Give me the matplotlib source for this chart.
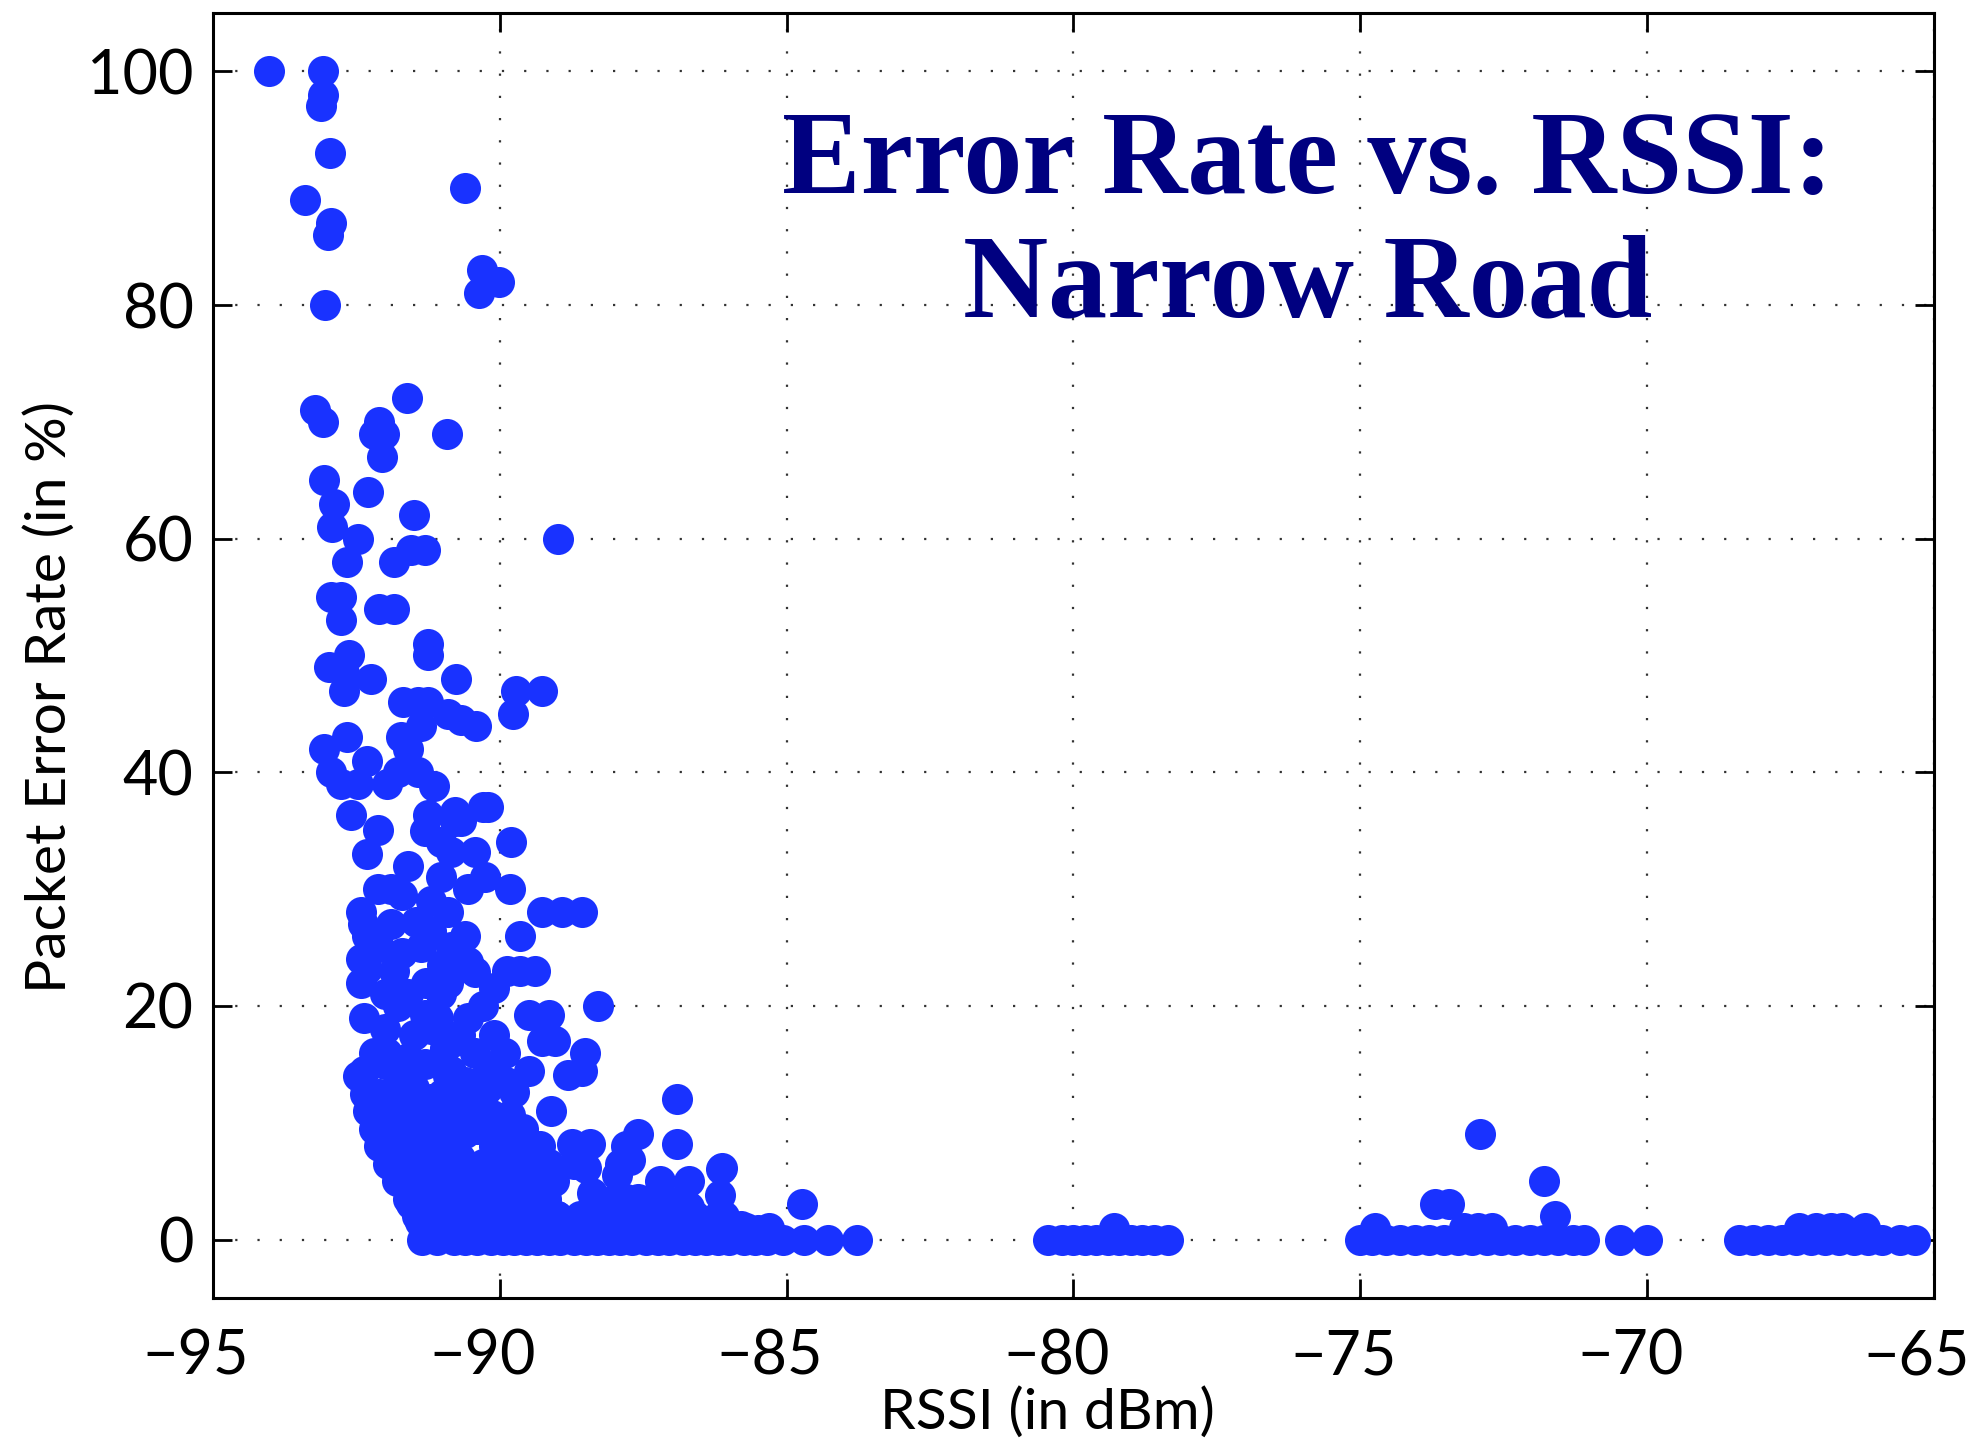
import matplotlib
matplotlib.use("Agg")
import matplotlib.pyplot as plt
import matplotlib.transforms as mtransforms

# points above the floor (RSSI in dBm, packet error rate in %)
upper_x = [-94.02, -93.08, -93.08, -93.11, -92.96, -93.4, -92.95, -93.0, -93.05,
           -90.61, -90.31, -90.02, -90.37, -93.22, -93.08, -91.61, -92.1, -92.19,
           -92.02, -92.05, -90.92, -93.06, -92.3, -92.89, -92.92, -91.5, -92.48,
           -92.66, -88.98, -91.55, -91.84, -91.3, -92.95, -92.77, -92.77, -92.1,
           -91.84, -91.26, -91.26]
upper_y = [100, 100, 98, 97, 93, 89, 87, 86, 80,
           90, 83, 82, 81, 71, 70, 72, 70, 69,
           69, 67, 69, 65, 64, 63, 61, 62, 60,
           58, 60, 59, 58, 59, 55, 55, 53, 54,
           54, 51, 50]

mid_x = [-92.63, -92.71, -92.98, -92.71, -92.25, -90.76, -89.71, -89.27, -89.77,
         -91.69, -91.43, -91.26, -90.9, -90.67, -90.41, -91.37, -91.72, -91.6,
         -93.06, -92.66, -92.31, -92.95, -92.77, -92.48, -91.96, -91.78, -91.43,
         -91.14, -90.79, -90.3, -92.6, -92.13, -92.31, -91.26, -90.79, -90.67,
         -90.2, -91.31, -91.02, -89.8, -91.6, -90.85, -90.44, -91.02, -90.55,
         -90.26, -89.82, -92.13, -91.9, -92.42, -92.39, -92.31, -89.27, -88.92,
         -88.57, -91.46, -91.2, -90.61, -91.37, -90.85, -90.55, -90.44, -89.65,
         -89.88, -89.65, -89.39, -92.42, -92.31, -91.84, -92.42, -91.28, -91.02,
         -91.78, -91.31, -91.08, -90.29, -90.55, -88.28, -92.36, -89.5, -89.15,
         -89.27, -89.04, -88.51, -88.57, -92.19, -91.96, -91.6, -90.96, -90.79,
         -90.44, -89.91, -92.36, -91.78, -90.85, -89.5, -88.82,
         -92.0, -91.6, -91.3, -90.9, -90.6, -90.2, -89.9, -92.0, -91.5, -91.2,
         -90.7, -90.1, -92.0, -91.6, -90.9, -90.1, -92.1, -91.7, -91.0, -91.9,
         -91.7, -91.2, -90.9]
mid_y = [50, 48.5, 49, 47, 48, 48, 47, 47, 45,
         46, 46, 46, 45, 44.5, 44, 44, 43, 42,
         42, 43, 41, 40, 39, 39, 39, 40, 40,
         38.8, 36.6, 37, 36.3, 35.1, 33, 36.3, 35.8, 35.8,
         37, 35, 34, 34, 32, 33.2, 33.2, 31, 30,
         31, 30, 30, 30, 28, 27, 26, 28, 28,
         28, 27.2, 26.4, 26, 25, 25, 23.8, 22.9, 26,
         23, 23, 23, 24, 23.2, 23, 22, 22, 21,
         20, 19.2, 19, 20, 19, 20, 19, 19.2, 19.2,
         17, 17, 16, 14.4, 16, 16, 15.5, 16.4, 17,
         16, 16, 14.4, 14.4, 14.4, 14.4, 14.1,
         15, 14.5, 15, 14, 13.5, 14.5, 13.5, 18, 17.5, 18,
         17.5, 17.5, 21, 21, 22, 21.5, 25, 24.5, 23.5, 27,
         29.5, 29, 28]

low_x = [-92.48, -92.24, -92.17, -92.01, -91.85, -91.7, -91.62, -91.54, -91.39,
         -91.23, -92.1, -91.8, -91.5, -91.2, -91.9, -91.6, -91.3, -91.0,
         -90.7, -90.9, -91.4, -91.1, -90.84, -90.61, -90.22, -89.75, -90.14,
         -89.83, -89.6, -89.3, -89.75, -90.2, -89.9, -89.3, -89.0, -88.7,
         -88.4, -89.6, -89.1, -90.1, -88.74, -88.43, -88.5, -87.96, -87.73,
         -87.8, -87.5, -87.2, -86.9, -87.5, -86.7, -86.5, -86.1, -85.8,
         -86.91, -86.91, -86.13, -86.17, -84.73, -87.6, -87.8, -86.15, -88.1,
         -89.0, -90.5, -91.0, -88.2, -87.3, -86.4, -85.5, -90.3, -89.2, -88.0]
low_y = [14, 11.8, 10.7, 8.7, 7.6, 6.1, 4.5, 3, 1.5,
         0.7, 12.5, 11, 13, 12, 9, 8, 9.5, 11,
         7, 5, 4, 2.5, 9.1, 9.1, 12.9, 12.6, 10.7,
         10.7, 7, 5.5, 4, 6, 2.5, 3, 2, 6.5,
         4, 9, 11, 4, 8.2, 8.2, 6.1, 5.5, 6.8,
         3.5, 2.8, 3.2, 2.2, 1.2, 2.8, 1.5, 2, 1.2,
         12, 8.2, 6.1, 3.8, 3, 9, 8, 6, 1.5,
         1, 1.5, 1, 3, 1, 1, 0.8, 1.2, 1.2, 1]

# the solid mass just above the floor
dense_x = [-91.3, -90.9, -90.5, -90.1, -89.7, -89.3, -88.9, -88.5, -88.1, -87.7,
           -87.3, -86.9, -86.5, -86.1, -85.7, -85.3,
           -91.45, -91.0, -90.6, -90.2, -89.8, -89.4, -89.0, -88.6, -88.2, -87.8,
           -87.4, -87.0, -86.6, -86.2,
           -91.6, -91.2, -90.8, -90.4, -90.0, -89.6, -89.2, -88.0, -87.6, -87.2,
           -86.8,
           -91.8, -91.4, -91.0, -90.6, -90.2, -89.8, -89.4, -89.05, -87.2, -86.7,
           -91.95, -91.5, -91.1, -90.7, -90.3, -89.9, -89.5, -89.15, -87.9,
           -92.1, -91.7, -91.3, -90.9, -90.1, -89.7, -89.3,
           -92.2, -91.8, -91.4, -90.4, -90.0, -89.6,
           -92.3, -91.9, -91.5, -90.8, -90.4,
           -92.35, -91.95, -91.0, -90.5]
dense_y = [1, 1, 1, 1, 1, 1, 1, 1, 1, 1,
           1, 1, 1, 1, 1, 1,
           2, 2, 2, 2, 2, 2, 2, 2, 2, 2,
           2, 2, 2, 2,
           3.5, 3.5, 3.5, 3.5, 3.5, 3.5, 3.5, 3.5, 3.5, 3.5,
           3.5,
           5, 5, 5, 5, 5, 5, 5, 5, 5, 5,
           6.5, 6.5, 6.5, 6.5, 6.5, 6.5, 6.5, 6.5, 6.5,
           8, 8, 8, 8, 8, 8, 8,
           9.5, 9.5, 9.5, 9.5, 9.5, 9.5,
           11, 11, 11, 11, 11,
           12.5, 12.5, 12.5, 12.5]

# packets with no loss (0 %)
floor_x = [-91.35, -91.1, -90.8, -90.6, -90.4, -90.15, -89.95, -89.75, -89.55,
           -89.35, -89.15, -88.95, -88.7, -88.5, -88.3, -88.1, -87.9, -87.7,
           -87.45, -87.25, -87.05, -86.8, -86.6, -86.4, -86.2, -86.0, -85.75,
           -85.55, -85.35, -85.06, -84.7, -84.28, -83.77,
           -80.45, -80.2, -80.0, -79.8, -79.6, -79.4, -79.2, -79.0, -78.8,
           -78.6, -78.35,
           -75.0, -74.8, -74.55, -74.3, -74.05, -73.8, -73.55, -73.3, -73.05,
           -72.8, -72.55, -72.3, -72.05, -71.8, -71.55, -71.3, -71.1, -70.47, -70.0,
           -68.4, -68.15, -67.9, -67.65, -67.4, -67.15, -66.9, -66.65, -66.4,
           -66.15, -65.9, -65.6, -65.33]

far_x = [-79.3, -74.75, -73.7, -73.45, -73.2, -72.95, -72.7, -72.92, -71.8,
         -71.6, -67.35, -67.05, -66.8, -66.6, -66.2]
far_y = [1, 1, 3, 3, 1, 1, 1, 9, 5,
         2, 1, 1, 1, 1, 1]

x_ticks = [-95, -90, -85, -80, -75, -70, -65]
y_ticks = [0, 20, 40, 60, 80, 100]

plt.rcParams['font.family'] = ['Lato', 'DejaVu Sans']

fig = plt.figure(figsize=(19.85, 14.42), dpi=100)
ax = fig.add_axes([0.1073, 0.0999, 0.867, 0.8911])

dot = dict(s=500, color='#1932FF', linewidths=0, zorder=3)
ax.scatter(upper_x, upper_y, **dot)
ax.scatter(mid_x, mid_y, **dot)
ax.scatter(low_x, low_y, **dot)
ax.scatter(dense_x, dense_y, **dot)
ax.scatter(floor_x, [0] * len(floor_x), **dot)
ax.scatter(far_x, far_y, **dot)

ax.set_xlim(-95, -65)
ax.set_ylim(-5, 105)
ax.set_xticks(x_ticks)
ax.set_yticks(y_ticks)
ax.set_xticklabels(['\u2212' + str(abs(v)) for v in x_ticks])
ax.grid(True, color='#333333', linestyle=(0, (1, 9)), linewidth=1.6)
ax.set_axisbelow(True)
ax.tick_params(direction='in', length=14, width=2, labelsize=44, pad=14,
               top=True, right=True)
ax.tick_params(axis='x', pad=22)
for sp in ax.spines.values():
    sp.set_linewidth(2.2)

# digits sit on the tick, the minus hangs to the left (as in the original)
shift = mtransforms.ScaledTranslation(-0.17, 0, fig.dpi_scale_trans)
for lab in ax.get_xticklabels():
    lab.set_transform(lab.get_transform() + shift)

ax.set_xlabel('RSSI (in dBm)', fontsize=41)
ax.set_ylabel('Packet Error Rate (in %)', fontsize=41)
ax.xaxis.set_label_coords(0.485, -0.069)
ax.yaxis.set_label_coords(-0.080, 0.468)

ax.text(0.636, 0.834, 'Error Rate vs. RSSI:\nNarrow Road', transform=ax.transAxes,
        ha='center', va='center', fontsize=85, fontweight='bold',
        family='Liberation Serif', color='#000080', linespacing=1.2)

fig.savefig('out.png', dpi=100)
